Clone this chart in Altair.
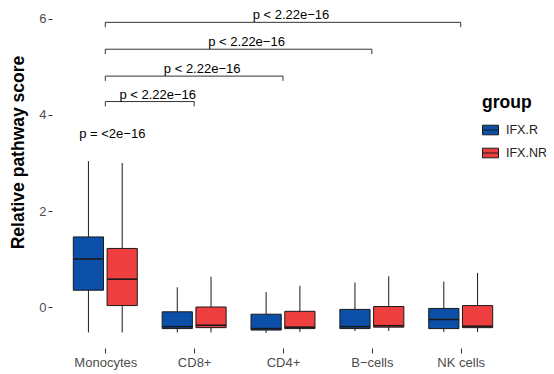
import json
import altair as alt
import pandas as pd

# ---- data ----
cells = ["Monocytes", "CD8+", "CD4+", "B\u2212cells", "NK cells"]
groups = ["IFX.R", "IFX.NR"]
colors = ["#0B4FA8", "#EE3E3E"]

# per cell type, R then NR
lower = {"IFX.R": [-0.53, -0.53, -0.54, -0.50, -0.52],
         "IFX.NR": [-0.53, -0.53, -0.52, -0.50, -0.52]}
q1 = {"IFX.R": [0.35, -0.45, -0.48, -0.45, -0.45],
      "IFX.NR": [0.03, -0.43, -0.45, -0.42, -0.43]}
median = {"IFX.R": [1.00, -0.41, -0.45, -0.41, -0.26],
          "IFX.NR": [0.58, -0.38, -0.42, -0.39, -0.40]}
q3 = {"IFX.R": [1.46, -0.10, -0.15, -0.05, -0.03],
      "IFX.NR": [1.22, 0.00, -0.09, 0.01, 0.03]}
upper = {"IFX.R": [3.04, 0.41, 0.31, 0.51, 0.53],
         "IFX.NR": [3.00, 0.63, 0.44, 0.64, 0.71]}

# comparisons Monocytes vs other cell types
bracket_end = ["NK cells", "B\u2212cells", "CD4+", "CD8+"]
bracket_y = [5.93, 5.37, 4.81, 4.28]
bracket_label = ["p < 2.22e\u221216"] * 4
group_label = "p = <2e\u221216"
group_label_y = 3.6

# ---- tables ----
dodge = {"IFX.R": -0.19, "IFX.NR": 0.19}
half = 0.17
rows = []
for g in groups:
    for i, c in enumerate(cells):
        xc = i + 1 + dodge[g]
        rows.append(dict(cell=c, group=g, xc=xc, x0=xc - half, x1=xc + half,
                         lo=lower[g][i], q1=q1[g][i], med=median[g][i],
                         q3=q3[g][i], hi=upper[g][i]))
box = pd.DataFrame(rows)

idx = {c: i + 1 for i, c in enumerate(cells)}
br = pd.DataFrame(dict(bs=[idx["Monocytes"]] * 4,
                       be=[idx[e] for e in bracket_end],
                       y=bracket_y, label=bracket_label))
br["bm"] = (br["bs"] + br["be"]) / 2
br["ytip"] = br["y"] - 0.1
tips = pd.concat([br[["bs", "y", "ytip"]].rename(columns={"bs": "bx"}),
                  br[["be", "y", "ytip"]].rename(columns={"be": "bx"})])
glab = pd.DataFrame(dict(bx=[idx["Monocytes"]], y=[group_label_y], label=[group_label]))

FONT = "Liberation Sans"
xscale = alt.Scale(domain=[0.4, 5.6], nice=False, zero=False)
yscale = alt.Scale(domain=[-0.854, 6.229], nice=False, zero=False)
label_expr = json.dumps(cells) + "[datum.value - 1]"

xaxis = alt.Axis(values=[1, 2, 3, 4, 5], labelExpr=label_expr, title=None,
                 domain=False, grid=False, tickSize=5, tickColor="#333333",
                 labelColor="#4D4D4D", labelFontSize=13, labelFont=FONT,
                 labelPadding=3)
yaxis = alt.Axis(values=[0, 2, 4, 6], format="d", title="Relative pathway score",
                 domain=False, grid=False, tickSize=4, tickColor="#333333",
                 labelColor="#4D4D4D", labelFontSize=13, labelFont=FONT,
                 labelPadding=2, titleFont=FONT, titleFontSize=17.5,
                 titleFontWeight="bold", titleColor="black",
                 titleX=-29, titleY=144, titleAngle=270, titleBaseline="alphabetic",
                 titleAlign="center")

base = alt.Chart(box)

whisk = base.mark_rule(color="#1a1a1a", strokeWidth=1).encode(
    x=alt.X("xc:Q", scale=xscale, axis=xaxis),
    y=alt.Y("lo:Q", scale=yscale, axis=yaxis),
    y2="hi:Q")

boxes = base.mark_bar(stroke="#1a1a1a", strokeWidth=1).encode(
    x="x0:Q", x2="x1:Q", y="q1:Q", y2="q3:Q",
    fill=alt.Fill("group:N", scale=alt.Scale(domain=groups, range=colors),
                  legend=alt.Legend(title="group", orient="none",
                                    legendX=430, legendY=86,
                                    symbolType="M-1,-0.6H1V0.6H-1Z M-1,0H1",
                                    symbolSize=256, symbolStrokeColor="#1a1a1a",
                                    symbolStrokeWidth=1, symbolOpacity=1,
                                    titleFont=FONT, titleFontSize=17.5,
                                    titleFontWeight="bold", titleColor="black",
                                    titlePadding=10,
                                    labelFont=FONT, labelFontSize=12.5,
                                    labelColor="#222222", labelOffset=7,
                                    rowPadding=7)))

meds = base.mark_rule(color="#1a1a1a", strokeWidth=1.6).encode(
    x="x0:Q", x2="x1:Q", y="med:Q")

hbr = alt.Chart(br).mark_rule(color="#333333", strokeWidth=1).encode(
    x="bs:Q", x2="be:Q", y="y:Q")
tbr = alt.Chart(tips).mark_rule(color="#333333", strokeWidth=1).encode(
    x="bx:Q", y="y:Q", y2="ytip:Q")
txt = alt.Chart(br).mark_text(font=FONT, fontSize=13, color="black",
                              baseline="alphabetic", dy=-3, dx=8).encode(
    x="bm:Q", y="y:Q", text="label:N")
gtxt = alt.Chart(glab).mark_text(font=FONT, fontSize=13, color="black",
                                 baseline="middle", dx=7).encode(
    x="bx:Q", y="y:Q", text="label:N")

chart = alt.layer(whisk, boxes, meds, hbr, tbr, txt, gtxt).properties(
    width=462, height=340,
    autosize=alt.AutoSizeParams(type="none"),
    padding={"left": 44, "top": 0, "right": 32, "bottom": 24},
).configure_view(stroke=None)

chart.save("out.html", embed_options={"renderer": "svg", "actions": False})
